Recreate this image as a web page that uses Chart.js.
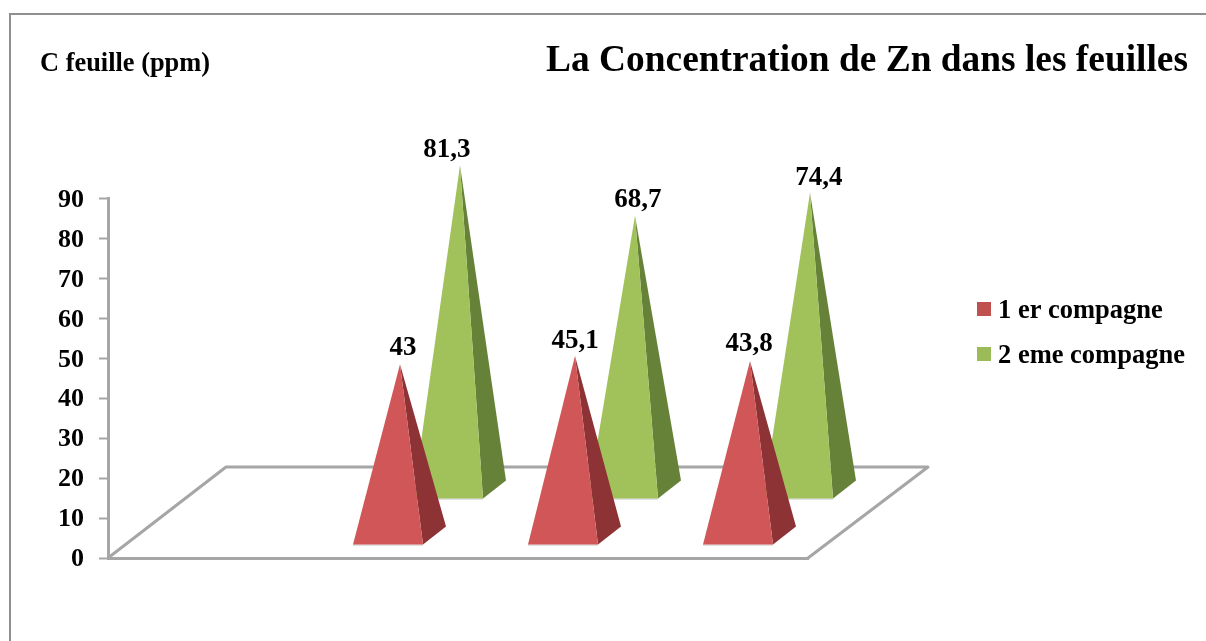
<!DOCTYPE html>
<html>
<head>
<meta charset="utf-8">
<title>La Concentration de Zn dans les feuilles</title>
<script src="https://cdn.jsdelivr.net/npm/chart.js@4"></script>
<style>
  html, body { margin: 0; background: #fff; overflow: hidden; }
  #frame { position: absolute; left: 9px; top: 13px; right: 0; bottom: 0; border-left: 2px solid #8f8f8f; border-top: 2px solid #8f8f8f; }
  canvas { position: absolute; left: 0; top: 0; display: block; }
</style>
</head>
<body>
<div id="frame"></div>
<canvas id="zincChart" width="1206" height="641"></canvas>
<script>
// first category is empty in the original chart
const categories = ['', 'A', 'B', 'C'];
const campagne1 = [null, 43, 45.1, 43.8];
const campagne2 = [null, 81.3, 68.7, 74.4];
const yTicks = [0, 10, 20, 30, 40, 50, 60, 70, 80, 90];

const serif = '"Liberation Serif", "Times New Roman", serif';

// depth of each series on the floor, and its colours
const looks = [
  { lift: 22, front: '#d15657', side: '#8d3335', swatch: '#c0504d' },
  { lift: 68, front: '#a1c25b', side: '#668239', swatch: '#9bbb59' }
];
// nudges for the value labels, same as in the source picture
const labelNudges = [
  [null, [3, -16], [0, -15], [-1, -17]],
  [null, [-13, -15], [3, -16], [9, -15]]
];

function drawFace(ctx, points, color) {
  ctx.beginPath();
  points.forEach((p, i) => (i ? ctx.lineTo(p[0], p[1]) : ctx.moveTo(p[0], p[1])));
  ctx.closePath();
  ctx.fillStyle = color;
  ctx.fill();
}

const pyramids = {
  id: 'pyramids',
  afterLayout(chart) {
    // title and axis caption share a row, the plot keeps its own place
    chart.boxes.forEach(box => {
      if (box.options && box.options.text === 'C feuille (ppm)') {
        box.left = 40; box.right = 400; box.top = 48; box.bottom = 79;
      } else if (box === chart.titleBlock) {
        box.left = 400; box.right = 1188; box.top = 39; box.bottom = 84;
      }
    });
  },
  beforeDatasetsDraw(chart) {
    const ctx = chart.ctx;
    const x = chart.scales.x;
    const y0 = chart.scales.y.getPixelForValue(0);

    // floor of the 3D box
    ctx.save();
    ctx.strokeStyle = '#a6a6a6';
    ctx.lineWidth = 3;
    ctx.lineJoin = 'round';
    ctx.beginPath();
    ctx.moveTo(x.left, y0);
    ctx.lineTo(x.left + 118, y0 - 91);
    ctx.lineTo(x.right + 120, y0 - 91);
    ctx.lineTo(x.right, y0);
    ctx.stroke();

    // back series first so the front one covers it
    for (let d = chart.data.datasets.length - 1; d >= 0; d--) {
      const look = looks[d];
      chart.getDatasetMeta(d).data.forEach((el, i) => {
        if (chart.data.datasets[d].data[i] === null) return;
        const ax = el.x + 59.5;
        const ay = el.y - look.lift;
        const by = el.base - look.lift + 9;
        const backY = by - 18;
        ctx.strokeStyle = '#c4c4c4';
        ctx.lineWidth = 1;
        ctx.beginPath();
        ctx.moveTo(ax - 47, by + 0.5);
        ctx.lineTo(ax + 23, by + 0.5);
        ctx.stroke();
        drawFace(ctx, [[ax, ay], [ax + 23, by], [ax + 46, backY]], look.side);
        drawFace(ctx, [[ax, ay], [ax - 47, by], [ax + 23, by]], look.front);
      });
    }
    ctx.restore();
    return false;
  },
  afterDraw(chart) {
    const ctx = chart.ctx;
    ctx.save();
    ctx.fillStyle = '#000';
    ctx.font = 'bold 27px ' + serif;
    ctx.textAlign = 'center';
    ctx.textBaseline = 'middle';
    chart.data.datasets.forEach((ds, d) => {
      chart.getDatasetMeta(d).data.forEach((el, i) => {
        if (ds.data[i] === null) return;
        const nudge = labelNudges[d][i];
        const text = String(ds.data[i]).replace('.', ',');
        ctx.fillText(text, el.x + 59.5 + nudge[0], el.y - looks[d].lift + nudge[1]);
      });
    });

    // legend, small swatches close to the text
    ctx.textAlign = 'left';
    ctx.font = 'bold 26.5px ' + serif;
    chart.data.datasets.forEach((ds, d) => {
      const rowY = 309 + d * 45;
      ctx.fillStyle = looks[d].swatch;
      ctx.fillRect(977, rowY - 7, 14, 14);
      ctx.fillStyle = '#000';
      ctx.fillText(ds.label, 998, rowY + 2);
    });
    ctx.restore();
  }
};

new Chart(document.getElementById('zincChart').getContext('2d'), {
  type: 'bar',
  data: {
    labels: categories,
    datasets: [
      { label: '1 er compagne', data: campagne1, backgroundColor: looks[0].swatch, categoryPercentage: 0.6857, barPercentage: 1 },
      { label: '2 eme compagne', data: campagne2, backgroundColor: looks[1].swatch, categoryPercentage: 0.6857, barPercentage: 1 }
    ]
  },
  options: {
    responsive: false,
    animation: false,
    layout: { padding: { top: 122, right: 398, bottom: 75, left: 0 } },
    plugins: {
      legend: { display: false },
      tooltip: { enabled: false },
      title: {
        display: true,
        text: 'La Concentration de Zn dans les feuilles',
        align: 'end',
        color: '#000',
        padding: 0,
        font: { family: serif, size: 37.4, weight: 'bold', lineHeight: 1.2 }
      },
      subtitle: {
        display: true,
        text: 'C feuille (ppm)',
        align: 'start',
        color: '#000',
        padding: 0,
        font: { family: serif, size: 26.4, weight: 'bold', lineHeight: 1.2 }
      }
    },
    scales: {
      x: {
        grid: { display: false },
        ticks: { display: false },
        border: { color: '#a6a6a6', width: 3 }
      },
      y: {
        min: 0,
        max: 90,
        afterFit(scale) { scale.width = 108; },
        afterBuildTicks(scale) { scale.ticks = yTicks.map(v => ({ value: v })); },
        grid: { drawOnChartArea: false, tickLength: 9, tickColor: '#a6a6a6', tickWidth: 2 },
        border: { color: '#a6a6a6', width: 3 },
        ticks: { color: '#000', padding: 15, labelOffset: 1.5, font: { family: serif, size: 26, weight: 'bold' } }
      }
    }
  },
  plugins: [pyramids]
});
</script>
</body>
</html>
